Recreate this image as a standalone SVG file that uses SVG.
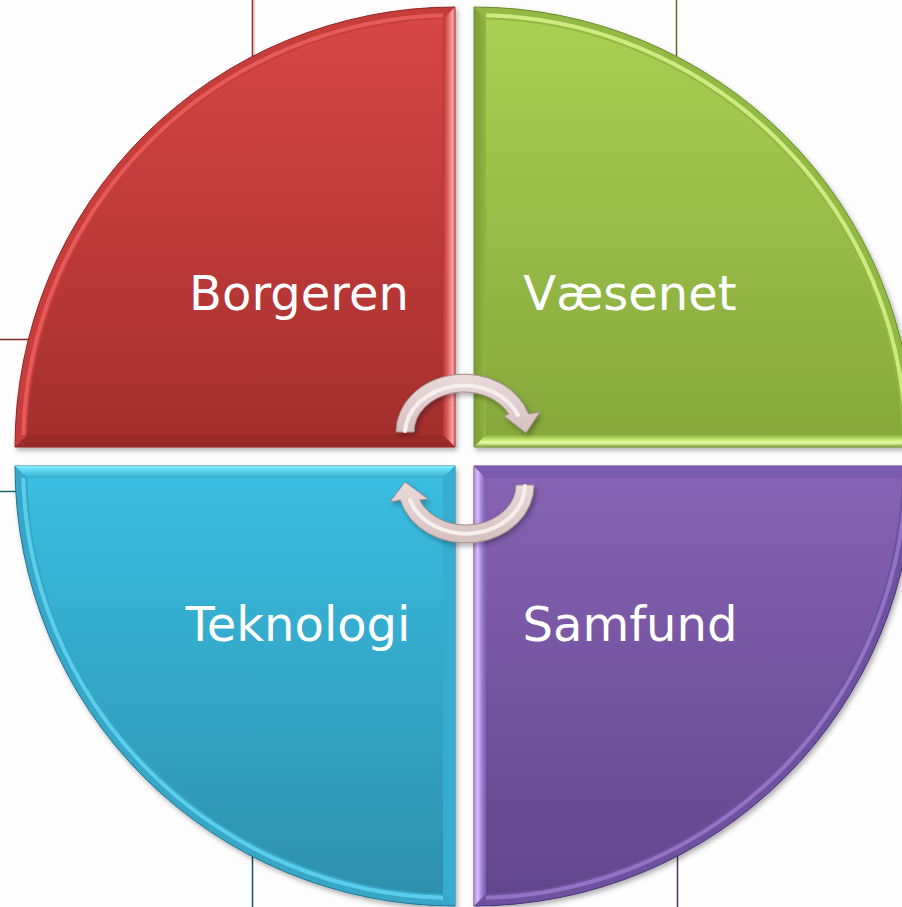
<svg xmlns="http://www.w3.org/2000/svg" width="902" height="907" viewBox="0 0 902 907">
<defs>
<linearGradient id="gRed" x1="0" y1="0" x2="0" y2="1"><stop offset="0" stop-color="#D84646"/><stop offset="1" stop-color="#A42F2D"/></linearGradient>
<linearGradient id="gGreen" x1="0" y1="0" x2="0" y2="1"><stop offset="0" stop-color="#A8D052"/><stop offset="1" stop-color="#86A83C"/></linearGradient>
<linearGradient id="gBlue" x1="0" y1="0" x2="0" y2="1"><stop offset="0" stop-color="#39BDE2"/><stop offset="1" stop-color="#2E90AC"/></linearGradient>
<linearGradient id="gPurple" x1="0" y1="0" x2="0" y2="1"><stop offset="0" stop-color="#8762B4"/><stop offset="1" stop-color="#62468C"/></linearGradient>
<linearGradient id="gRedR" gradientUnits="userSpaceOnUse" x1="443" y1="0" x2="455" y2="0"><stop offset="0" stop-color="#B83636"/><stop offset="0.45" stop-color="#E46666"/><stop offset="0.8" stop-color="#FAA6A6"/><stop offset="1" stop-color="#D05050"/></linearGradient>
<linearGradient id="gGreenB" gradientUnits="userSpaceOnUse" x1="0" y1="435" x2="0" y2="447"><stop offset="0" stop-color="#8CB040"/><stop offset="0.4" stop-color="#C6EA76"/><stop offset="0.65" stop-color="#E6FBA8"/><stop offset="1" stop-color="#7E9E34"/></linearGradient>
<linearGradient id="gGreenL" gradientUnits="userSpaceOnUse" x1="474" y1="0" x2="486" y2="0"><stop offset="0" stop-color="#7A9A34"/><stop offset="1" stop-color="#92B645"/></linearGradient>
<linearGradient id="gBlueT" gradientUnits="userSpaceOnUse" x1="0" y1="466" x2="0" y2="478"><stop offset="0" stop-color="#80EEFF"/><stop offset="0.4" stop-color="#5ED4F2"/><stop offset="1" stop-color="#36ACCE"/></linearGradient>
<linearGradient id="gPurpleL" gradientUnits="userSpaceOnUse" x1="474" y1="0" x2="486" y2="0"><stop offset="0" stop-color="#A888D8"/><stop offset="0.3" stop-color="#D8BCFF"/><stop offset="0.7" stop-color="#9A78CC"/><stop offset="1" stop-color="#7E5CB0"/></linearGradient>
<linearGradient id="gArrow" x1="0" y1="0" x2="0" y2="1"><stop offset="0" stop-color="#EADADA"/><stop offset="1" stop-color="#D6C0C0"/></linearGradient>
<filter id="sh" x="-5%" y="-5%" width="115%" height="115%"><feDropShadow dx="2" dy="3" stdDeviation="2.5" flood-color="#000" flood-opacity="0.3"/></filter>
</defs>
<style>
.lbl{font-family:"DejaVu Sans",Verdana,sans-serif;font-size:48px;fill:#ffffff;text-anchor:middle}
.bgl{fill:none;stroke-width:1.5}
.hl{fill:none;stroke-width:4;stroke-opacity:0.8}
.arrow{fill:url(#gArrow);stroke:#A58C8C;stroke-width:1;filter:url(#sh)}
.ahl{fill:none;stroke:#F7EEEE;stroke-width:4;stroke-linecap:round}
</style>
<rect width="902" height="907" fill="#FDFDFD"/>
<g id="background">
<line class="bgl" x1="252.5" y1="0" x2="252.5" y2="80" stroke="#8B2A2A"/>
<line x1="254" y1="0" x2="254" y2="80" stroke="#F2A8A8" stroke-width="1"/>
<line class="bgl" x1="676.5" y1="0" x2="676.5" y2="80" stroke="#5A7030"/>
<line class="bgl" x1="0" y1="339.5" x2="40" y2="339.5" stroke="#8B2A2A"/>
<line class="bgl" x1="0" y1="491.5" x2="30" y2="491.5" stroke="#1F5E70"/>
<line class="bgl" x1="252.5" y1="830" x2="252.5" y2="907" stroke="#1A5060"/>
<line class="bgl" x1="677.5" y1="830" x2="677.5" y2="907" stroke="#503070"/>
</g>
<g id="borgeren">
<path d="M455,447 L15,447 A440,440 0 0 1 455,7 Z" fill="#C63D3B" stroke="#8E2624" stroke-width="1" filter="url(#sh)"/>
<path class="hl" d="M23.2,435 A432,432 0 0 1 443,15.2" stroke="#F06262"/>
<polygon points="455,7 455,447 443,435 443,19.2" fill="url(#gRedR)"/>
<polygon points="15,447 455,447 443,435 27.2,435" fill="#982B29"/>
<path d="M443,435 L27.2,435 A428,428 0 0 1 443,19.2 Z" fill="url(#gRed)"/>
<text class="lbl" x="299" y="310">Borgeren</text>
</g>
<g id="vaesenet">
<path d="M474,447 L474,7 A440,440 0 0 1 914,447 Z" fill="#93B944" stroke="#6A8A2A" stroke-width="1" filter="url(#sh)"/>
<path class="hl" d="M486,15.2 A432,432 0 0 1 905.8,435" stroke="#DDF890"/>
<polygon points="474,7 474,447 486,435 486,19.2" fill="url(#gGreenL)"/>
<polygon points="474,447 914,447 901.8,435 486,435" fill="url(#gGreenB)"/>
<path d="M486,435 L486,19.2 A428,428 0 0 1 901.8,435 Z" fill="url(#gGreen)"/>
<text class="lbl" x="630" y="310">Væsenet</text>
</g>
<g id="teknologi">
<path d="M455,466 L15,466 A440,440 0 0 0 455,906 Z" fill="#38A6C6" stroke="#1E7690" stroke-width="1" filter="url(#sh)"/>
<path class="hl" d="M23.2,478 A432,432 0 0 0 443,897.8" stroke="#62D8F6"/>
<polygon points="15,466 455,466 443,478 27.2,478" fill="url(#gBlueT)"/>
<polygon points="455,466 455,906 443,893.8 443,478" fill="#35ACD0"/>
<path d="M443,478 L27.2,478 A428,428 0 0 0 443,893.8 Z" fill="url(#gBlue)"/>
<text class="lbl" x="298" y="641">Teknologi</text>
</g>
<g id="samfund">
<path d="M474,466 L914,466 A440,440 0 0 1 474,906 Z" fill="#6E519F" stroke="#4A3272" stroke-width="1" filter="url(#sh)"/>
<path class="hl" d="M905.8,478 A432,432 0 0 1 486,897.8" stroke="#9C7CD0"/>
<polygon points="474,466 474,906 486,893.8 486,478" fill="url(#gPurpleL)"/>
<polygon points="474,466 914,466 901.8,478 486,478" fill="#7C5AAE"/>
<path d="M486,478 L901.8,478 A428,428 0 0 1 486,893.8 Z" fill="url(#gPurple)"/>
<text class="lbl" x="630" y="641">Samfund</text>
</g>
<g id="connectors">
<path class="arrow" d="M396,432 A68,58 0 0 1 528.6,414 L540,412 L526,433 L504,416 L508.7,414 A50,40 0 0 0 414,432 Z"/>
<path class="ahl" d="M405,431 A59,49 0 0 1 518,415"/>
<path class="arrow" d="M534,485 A68,58 0 0 1 400.3,500 L390,502 L405,482 L428,499 L419.6,500 A50,40 0 0 0 516,485 Z"/>
<path class="ahl" d="M525,486 A59,49 0 0 1 410,500"/>
</g>
</svg>
